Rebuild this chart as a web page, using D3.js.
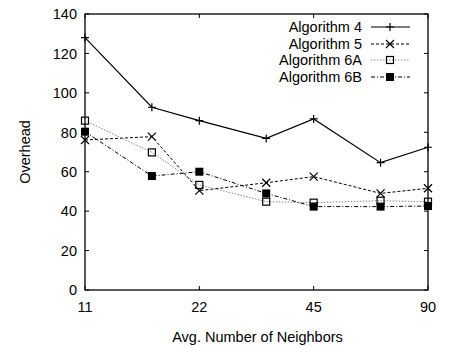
<!DOCTYPE html>
<html><head><meta charset="utf-8">
<script src="https://cdn.jsdelivr.net/npm/d3@7"></script>
<style>body{margin:0;background:#fff}svg{display:block}text{font-family:"Liberation Sans",Arial,sans-serif;font-size:14.5px;fill:#000}</style>
</head><body><svg id="c" width="451" height="348"></svg>
<script>
const xValues = [11.25, 16.875, 22.5, 33.75, 45, 67.5, 90];
const xTickValues = [11.25, 22.5, 45, 90];
const xTickLabels = ["11", "22", "45", "90"];
const yTickValues = [0, 20, 40, 60, 80, 100, 120, 140];
const seriesNames = ["Algorithm 4", "Algorithm 5", "Algorithm 6A", "Algorithm 6B"];
const alg4 = [128, 92.7, 85.9, 76.9, 86.8, 64.6, 72.4];
const alg5 = [76.1, 77.8, 50.4, 54.4, 57.5, 49.0, 51.6];
const alg6A = [85.9, 69.8, 53.3, 44.8, 44.3, 45.3, 44.8];
const alg6B = [80.3, 57.8, 60.0, 49.0, 42.3, 42.3, 42.6];

const series = [alg4, alg5, alg6A, alg6B];
const styles = [
  {stroke:"#000", dash:null, marker:"plus", w:1.2},
  {stroke:"#000", dash:"3,2", marker:"cross", w:1},
  {stroke:"#888", dash:"1.5,1.5", marker:"sq", w:1},
  {stroke:"#000", dash:"4,2,1,2", marker:"fsq", w:1}
];
const L=85,R=428,T=14,B=290;
const svg=d3.select("#c");
const x=d3.scaleLog().domain([11.25,90]).range([L,R]);
const y=d3.scaleLinear().domain([0,140]).range([B,T]);

const tl=4;
const g=svg.append("g");
yTickValues.forEach(v=>{
  g.append("line").attr("x1",L).attr("x2",L+tl).attr("y1",y(v)).attr("y2",y(v)).attr("stroke","#000");
  g.append("line").attr("x1",R).attr("x2",R-tl).attr("y1",y(v)).attr("y2",y(v)).attr("stroke","#000");
  g.append("text").attr("x",L-8).attr("y",y(v)).attr("dy","0.36em").attr("text-anchor","end").text(v);
});
xTickValues.forEach((v,i)=>{
  g.append("line").attr("x1",x(v)).attr("x2",x(v)).attr("y1",B).attr("y2",B-tl).attr("stroke","#000");
  g.append("line").attr("x1",x(v)).attr("x2",x(v)).attr("y1",T).attr("y2",T+tl).attr("stroke","#000");
  g.append("text").attr("x",x(v)).attr("y",B+22).attr("text-anchor","middle").text(xTickLabels[i]);
});
svg.append("rect").attr("x",L).attr("y",T).attr("width",R-L).attr("height",B-T).attr("fill","none").attr("stroke","#000").attr("stroke-width",1.3);

svg.append("text").attr("x",(L+R)/2+1).attr("y",342).attr("text-anchor","middle").text("Avg. Number of Neighbors");
svg.append("text").attr("transform",`translate(30,${(T+B)/2}) rotate(-90)`).attr("text-anchor","middle").text("Overhead");

function marker(sel,type,cx,cy){
  const s=4;
  if(type==="plus"){
    sel.append("path").attr("d",`M${cx-s},${cy}H${cx+s}M${cx},${cy-s}V${cy+s}`).attr("stroke","#000").attr("stroke-width",1.2);
  }else if(type==="cross"){
    sel.append("path").attr("d",`M${cx-s},${cy-s}L${cx+s},${cy+s}M${cx-s},${cy+s}L${cx+s},${cy-s}`).attr("stroke","#000").attr("stroke-width",1.2);
  }else if(type==="sq"){
    sel.append("rect").attr("x",cx-s+0.5).attr("y",cy-s+0.5).attr("width",2*s-1).attr("height",2*s-1).attr("fill","none").attr("stroke","#000").attr("stroke-width",1.2);
  }else{
    sel.append("rect").attr("x",cx-s).attr("y",cy-s).attr("width",2*s).attr("height",2*s).attr("fill","#000");
  }
}
const line=d3.line().x((d,i)=>x(xValues[i])).y(d=>y(d));
series.forEach((s,k)=>{
  const st=styles[k];
  svg.append("path").attr("d",line(s)).attr("fill","none").attr("stroke",st.stroke).attr("stroke-width",st.w).attr("stroke-dasharray",st.dash);
  const mg=svg.append("g");
  s.forEach((v,i)=>marker(mg,st.marker,x(xValues[i]),y(v)));
});
const legY=[27,44,60,77];
seriesNames.forEach((n,k)=>{
  const st=styles[k];
  svg.append("text").attr("x",362).attr("y",legY[k]).attr("dy","0.36em").attr("text-anchor","end").text(n);
  svg.append("line").attr("x1",371).attr("x2",410).attr("y1",legY[k]).attr("y2",legY[k]).attr("stroke",st.stroke).attr("stroke-width",st.w).attr("stroke-dasharray",st.dash);
  marker(svg,st.marker,390,legY[k]);
});
</script></body></html>
